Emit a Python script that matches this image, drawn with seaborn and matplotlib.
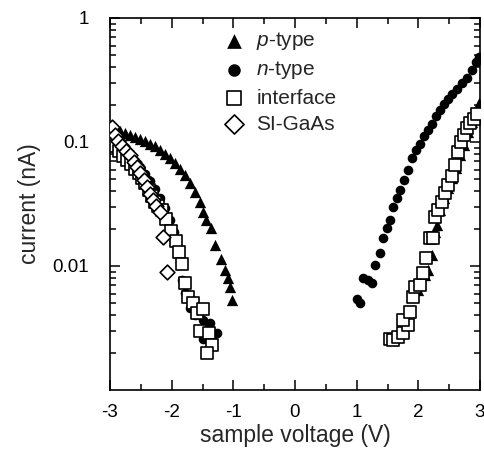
import numpy as np
import pandas as pd
import seaborn as sns
from matplotlib import pyplot as plt
from matplotlib.ticker import LogLocator, NullFormatter

# data ---------------------------------------------------------------------------------
p_neg_v = [-2.968, -2.903, -2.838, -2.757, -2.676, -2.595, -2.514, -2.432, -2.351, -2.270,
           -2.189, -2.108, -2.027, -1.946, -1.865, -1.784, -1.703, -1.622, -1.541, -1.492,
           -1.443, -1.362, -1.297, -1.200, -1.135, -1.087, -1.054, -1.022]
p_neg_i = [0.132, 0.127, 0.123, 0.118, 0.114, 0.110, 0.106, 0.102, 0.0964, 0.0929,
           0.0861, 0.080, 0.0743, 0.0677, 0.0606, 0.0542, 0.0467, 0.0395, 0.0328, 0.0272,
           0.0235, 0.0202, 0.0148, 0.0114, 0.0093, 0.0080, 0.0068, 0.0053]
p_pos_v = [1.994, 2.108, 2.157, 2.222, 2.270, 2.303, 2.351, 2.416, 2.481, 2.546,
           2.611, 2.676, 2.741, 2.805, 2.870, 2.935, 2.984]
p_pos_i = [0.0064, 0.0085, 0.0093, 0.0123, 0.0188, 0.0214, 0.0283, 0.0353, 0.0426, 0.0513,
           0.0617, 0.0786, 0.0946, 0.120, 0.145, 0.175, 0.206]

n_neg_v = [-2.968, -2.903, -2.838, -2.757, -2.676, -2.595, -2.514, -2.432, -2.351, -2.270,
           -2.189, -2.108, -2.027, -1.962, -1.914, -1.865, -1.833, -1.784, -1.703, -1.622,
           -1.492, -1.378, -1.492, -1.265, -1.330]
n_neg_i = [0.120, 0.108, 0.098, 0.088, 0.0786, 0.0703, 0.0629, 0.0552, 0.0485, 0.0418,
           0.0353, 0.0294, 0.0235, 0.0188, 0.0148, 0.0108, 0.0077, 0.0061, 0.0046, 0.0040,
           0.0037, 0.0035, 0.0026, 0.0029, 0.0028]
n_pos_v = [1.005, 1.054, 1.103, 1.183, 1.248, 1.297, 1.378, 1.427, 1.492, 1.540,
           1.589, 1.654, 1.703, 1.767, 1.832, 1.897, 1.962, 2.027, 2.092, 2.157,
           2.221, 2.286, 2.351, 2.416, 2.481, 2.546, 2.627, 2.708, 2.789, 2.870,
           2.935, 2.984]
n_pos_i = [0.00542, 0.00503, 0.0080, 0.0077, 0.0073, 0.0102, 0.0127, 0.0168, 0.0202, 0.0235,
           0.0299, 0.0353, 0.041, 0.0494, 0.0594, 0.0743, 0.0861, 0.0964, 0.112, 0.125,
           0.140, 0.162, 0.181, 0.202, 0.222, 0.244, 0.268, 0.299, 0.328, 0.381,
           0.442, 0.485]

int_neg_v = [-2.951, -2.903, -2.854, -2.789, -2.724, -2.659, -2.595, -2.530, -2.481, -2.432,
             -2.368, -2.319, -2.270, -2.222, -2.157, -2.092, -2.011, -1.930, -1.881, -1.833,
             -1.784, -1.735, -1.654, -1.589, -1.492, -1.541, -1.395, -1.346, -1.427]
int_neg_i = [0.104, 0.0929, 0.0846, 0.0771, 0.0716, 0.0665, 0.0606, 0.0562, 0.0513, 0.0467,
             0.041, 0.0367, 0.0328, 0.0305, 0.0283, 0.0239, 0.0191, 0.0159, 0.0130, 0.0104,
             0.0073, 0.0056, 0.0050, 0.0042, 0.0045, 0.0030, 0.0029, 0.0023, 0.0020]
int_pos_v = [1.540, 1.589, 1.670, 1.751, 1.832, 1.751, 1.865, 1.913, 1.946, 2.027,
             2.076, 2.124, 2.189, 2.238, 2.270, 2.319, 2.384, 2.432, 2.481, 2.546,
             2.595, 2.643, 2.692, 2.741, 2.789, 2.838, 2.903, 2.951]
int_pos_i = [0.00258, 0.00253, 0.00267, 0.00288, 0.00334, 0.00367, 0.00426, 0.0056, 0.0068, 0.0070,
             0.0088, 0.0116, 0.0168, 0.0168, 0.0248, 0.0283, 0.0328, 0.0388, 0.045, 0.0532,
             0.0653, 0.083, 0.100, 0.114, 0.130, 0.142, 0.153, 0.168]

si_v = [-2.968, -2.919, -2.870, -2.805, -2.741, -2.676, -2.611, -2.562, -2.514, -2.449,
        -2.400, -2.351, -2.303, -2.254, -2.189, -2.141, -2.076]
si_i = [0.132, 0.114, 0.102, 0.0929, 0.0846, 0.0786, 0.069, 0.0629, 0.0562, 0.0494,
        0.0434, 0.0381, 0.0341, 0.0305, 0.0272, 0.0171, 0.0090]

x_ticks = [-3, -2, -1, 0, 1, 2, 3]
x_minor = [-2.5, -1.5, -0.5, 0.5, 1.5, 2.5]
y_ticks = [0.01, 0.1, 1]
y_tick_labels = ['0.01', '0.1', '1']

# plot ----------------------------------------------------------------------------------
sns.set_style('ticks')
plt.rcParams['font.family'] = ['Liberation Sans', 'DejaVu Sans']
plt.rcParams['mathtext.fontset'] = 'custom'
plt.rcParams['mathtext.it'] = 'Liberation Sans:italic'
plt.rcParams['mathtext.rm'] = 'Liberation Sans'

fig = plt.figure(figsize=(4.84, 4.5), dpi=100)
ax = fig.add_axes([110 / 484, 60 / 450, 370 / 484, 372 / 450])

series = [
    (p_neg_v + p_pos_v, p_neg_i + p_pos_i, '^', 'black', 'black', 0, 66, '$p$-type'),
    (n_neg_v + n_pos_v, n_neg_i + n_pos_i, 'o', 'black', 'black', 0, 48, '$n$-type'),
    (int_neg_v + int_pos_v, int_neg_i + int_pos_i, 's', 'white', 'black', 1.2, 68, 'interface'),
    (si_v, si_i, 'D', 'white', 'black', 1.2, 56, 'SI-GaAs'),
]
for v, i, marker, fc, ec, lw, size, label in series:
    df = pd.DataFrame({'voltage': v, 'current': i})
    sns.scatterplot(data=df, x='voltage', y='current', marker=marker, color=fc,
                    edgecolor=ec, linewidth=lw, s=size, label=label, ax=ax, zorder=3)

ax.set_yscale('log')
ax.set_xlim(-3, 3)
ax.set_ylim(0.001, 1)
ax.set_xticks(x_ticks, [str(t) for t in x_ticks])
ax.set_xticks(x_minor, minor=True)
ax.set_yticks(y_ticks, y_tick_labels)
ax.yaxis.set_minor_locator(LogLocator(base=10, subs=np.arange(2, 10)))
ax.yaxis.set_minor_formatter(NullFormatter())

ax.tick_params(which='both', direction='in', top=True, right=True, width=1.1,
               labelsize=13.5, colors='black')
ax.tick_params(axis='x', which='major', pad=10)
ax.tick_params(axis='y', which='major', pad=15)
ax.tick_params(which='major', length=7)
ax.tick_params(which='minor', length=4)
for sp in ax.spines.values():
    sp.set_linewidth(1.2)
    sp.set_color('black')

ax.set_xlabel('sample voltage (V)', fontsize=16.5, labelpad=2)
ax.set_ylabel('current (nA)', fontsize=16.5, labelpad=8)

leg = ax.legend(loc='upper left', bbox_to_anchor=(224 / 484, 1 - 30 / 450),
                bbox_transform=fig.transFigure, frameon=False, fontsize=15,
                handlelength=1.0, handletextpad=0.55, labelspacing=0.35,
                borderpad=0, borderaxespad=0, scatterpoints=1, markerscale=1.3)

fig.savefig('out.png', dpi=100)
